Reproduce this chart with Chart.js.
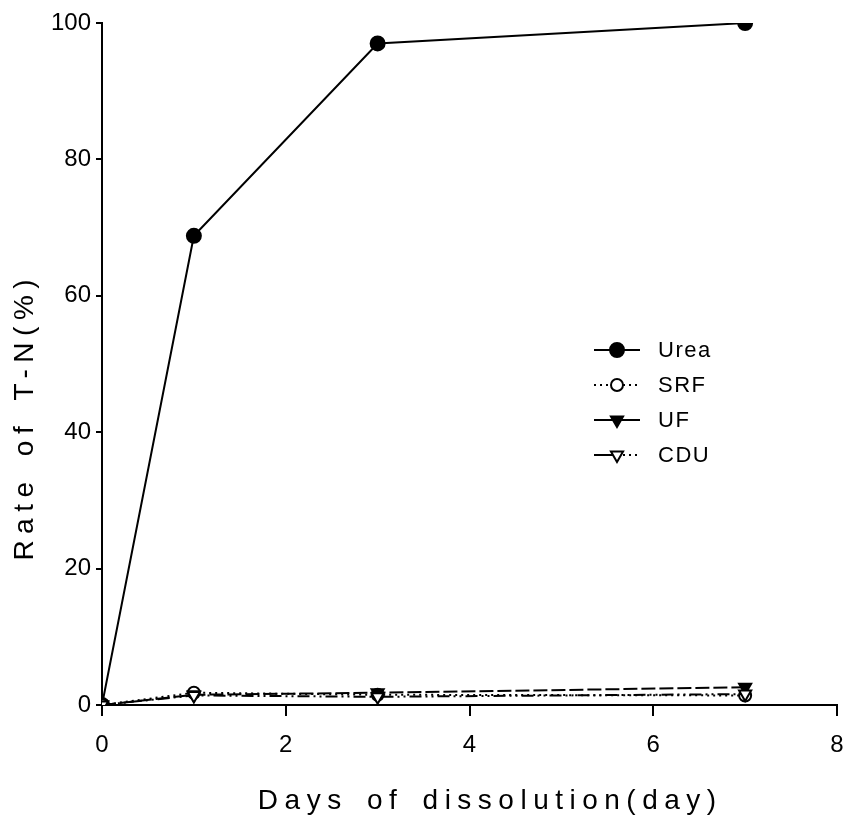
<!DOCTYPE html>
<html>
<head>
<meta charset="utf-8">
<script src="https://cdn.jsdelivr.net/npm/chart.js@4/dist/chart.umd.min.js"></script>
<style>
  html, body { margin: 0; padding: 0; background: #fff; }
  #wrap { width: 852px; height: 832px; }
</style>
</head>
<body>
<div id="wrap"><canvas id="c" width="852" height="832"></canvas></div>
<script>
// Dissolution time points (days)
const days = [0, 1, 3, 7];

// Cumulative T-N release rate (%) per fertilizer
const urea = [0, 68.8, 97.0, 100.0];
const srf  = [0, 1.8, 1.5, 1.4];
const uf   = [0, 1.5, 1.8, 2.6];
const cdu  = [0, 1.4, 1.2, 1.6];

const seriesNames = ['Urea', 'SRF', 'UF', 'CDU'];
const xTitle = 'Days of dissolution(day)';
const yTitle = 'Rate of T-N(%)';

const tickFont = '"Liberation Sans Narrow", "Liberation Sans", Arial, sans-serif';
const textFont = '"Liberation Sans", Arial, sans-serif';

function pts(vals) { return days.map((d, i) => ({ x: d, y: vals[i] })); }

// legendDash: [left half, right half] of the legend line sample
const datasets = [
  { label: seriesNames[0], data: pts(urea), borderDash: [], legendDash: [[], []],
    pointStyle: 'circle', pointRadius: 7, backgroundColor: '#000', order: 4 },
  { label: seriesNames[1], data: pts(srf), borderDash: [2, 4], legendDash: [[2, 4], [2, 4]],
    pointStyle: 'circle', pointRadius: 6, backgroundColor: '#fff', order: 3 },
  { label: seriesNames[2], data: pts(uf), borderDash: [14, 4], legendDash: [[], []],
    pointStyle: 'triangle', pointRadius: 7, pointRotation: 180, backgroundColor: '#000', order: 2 },
  { label: seriesNames[3], data: pts(cdu), borderDash: [12, 4, 2, 4, 2, 4], legendDash: [[], [2, 4]],
    pointStyle: 'triangle', pointRadius: 7, pointRotation: 180, backgroundColor: '#fff', order: 1 }
].map(d => Object.assign({
  borderColor: '#000', borderWidth: 2, pointBorderColor: '#000', pointBorderWidth: 2,
  pointBackgroundColor: d.backgroundColor, tension: 0, fill: false
}, d));

// Legend drawn as line sample + marker + label, inside the plot
const inlineLegend = {
  id: 'inlineLegend',
  afterDatasetsDraw(chart) {
    const ctx = chart.ctx;
    const x0 = 594, x1 = 640, xm = 617, xt = 658, y0 = 350, dy = 35;
    chart.data.datasets.forEach((ds, i) => {
      const y = y0 + i * dy;
      ctx.save();
      ctx.strokeStyle = '#000';
      ctx.lineWidth = 2;
      ctx.setLineDash(ds.legendDash[0]);
      ctx.beginPath(); ctx.moveTo(x0, y); ctx.lineTo(xm, y); ctx.stroke();
      ctx.setLineDash(ds.legendDash[1]);
      ctx.beginPath(); ctx.moveTo(xm, y); ctx.lineTo(x1, y); ctx.stroke();
      ctx.setLineDash([]);
      ctx.fillStyle = ds.pointBackgroundColor;
      ctx.strokeStyle = '#000';
      Chart.helpers.drawPoint(ctx, {
        pointStyle: ds.pointStyle, radius: ds.pointRadius, rotation: ds.pointRotation || 0, borderWidth: 2
      }, xm, y);
      ctx.fillStyle = '#000';
      ctx.font = '22px ' + textFont;
      ctx.letterSpacing = '1.5px';
      ctx.textAlign = 'left';
      ctx.textBaseline = 'middle';
      ctx.fillText(ds.label, xt, y + 1);
      ctx.restore();
    });
  }
};

// Axis titles with wide letter spacing
const axisTitles = {
  id: 'axisTitles',
  afterDraw(chart) {
    const ctx = chart.ctx;
    const sp = 6.5;
    ctx.save();
    ctx.fillStyle = '#000';
    ctx.font = '28px ' + textFont;
    ctx.letterSpacing = sp + 'px';
    ctx.wordSpacing = '5px';
    ctx.textBaseline = 'middle';
    ctx.textAlign = 'center';
    ctx.fillText(xTitle, 487 + sp / 2, 801);
    ctx.translate(25, 420);
    ctx.rotate(-Math.PI / 2);
    ctx.fillText(yTitle, sp / 2, 0);
    ctx.restore();
  }
};

new Chart(document.getElementById('c'), {
  type: 'line',
  data: { datasets },
  options: {
    responsive: false,
    animation: false,
    layout: { padding: { top: 23, right: 15, left: 0, bottom: 0 } },
    plugins: { legend: { display: false }, tooltip: { enabled: false } },
    scales: {
      x: {
        type: 'linear', min: 0, max: 8,
        ticks: { stepSize: 2, color: '#000', font: { family: tickFont, size: 24 }, padding: 15, maxRotation: 0 },
        grid: { drawOnChartArea: false, drawTicks: true, tickLength: 11, color: '#000', lineWidth: 2 },
        border: { display: true, color: '#000', width: 2 },
        afterFit(s) { s.height = 127; s.paddingLeft = 0; s.paddingRight = 0; }
      },
      y: {
        type: 'linear', min: 0, max: 100,
        ticks: { stepSize: 20, color: '#000', font: { family: tickFont, size: 24 }, padding: 5 },
        grid: { drawOnChartArea: false, drawTicks: true, tickLength: 6, color: '#000', lineWidth: 2 },
        border: { display: true, color: '#000', width: 2 },
        afterFit(s) { s.width = 102; s.paddingTop = 0; s.paddingBottom = 0; }
      }
    }
  },
  plugins: [inlineLegend, axisTitles]
});
</script>
</body>
</html>
